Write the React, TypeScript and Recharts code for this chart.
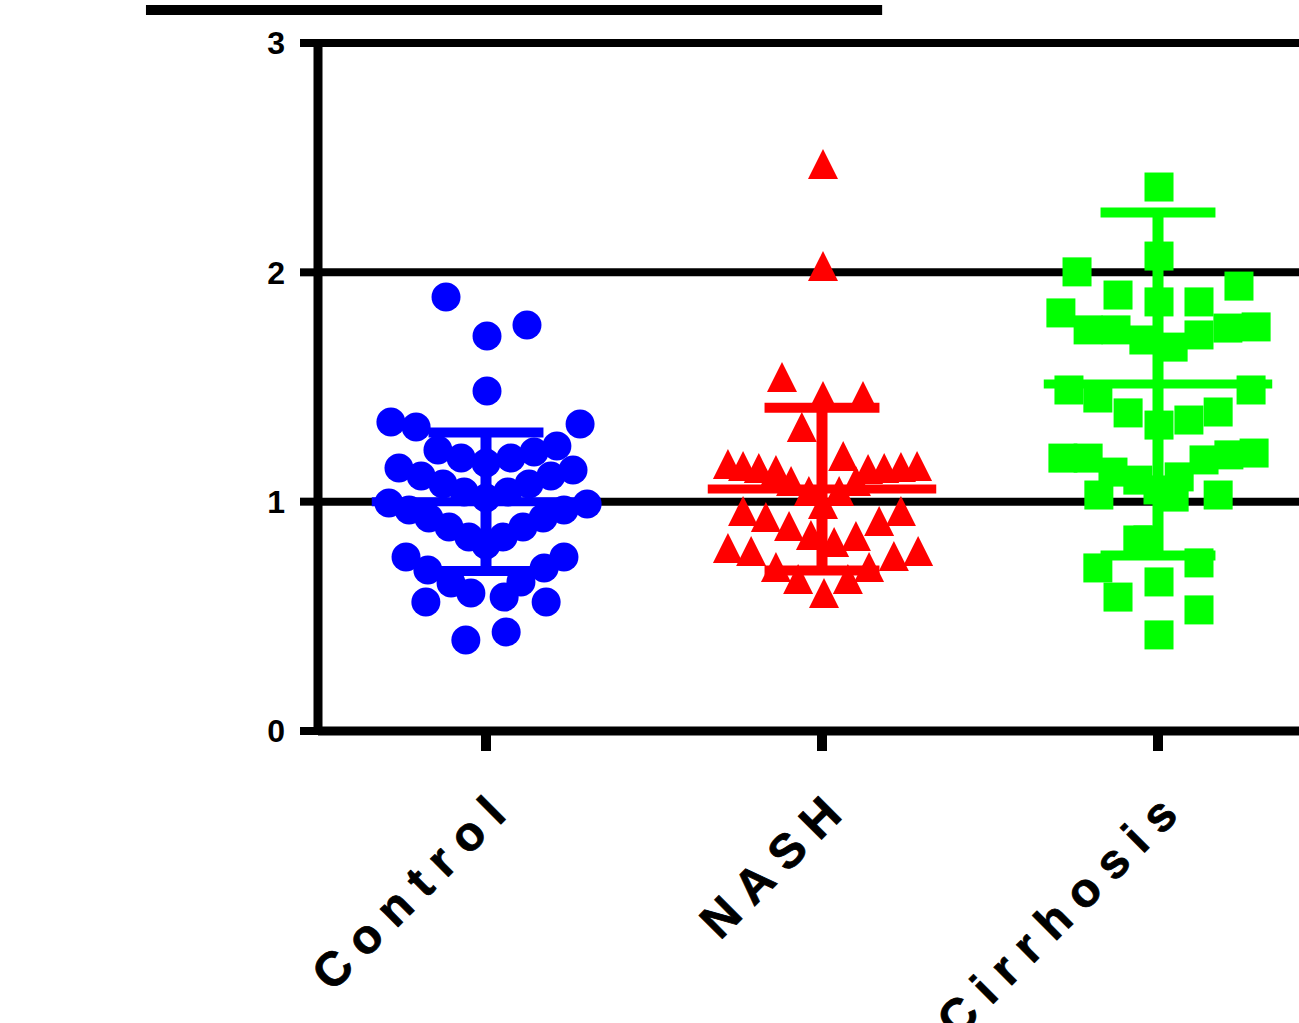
import React from 'react';
import { ScatterChart, Scatter, XAxis, YAxis, CartesianGrid, ReferenceLine } from 'recharts';

const categories = ['Control', 'NASH', 'Cirrhosis'];
const yTicks = [0, 1, 2, 3];
const colors = ['#0000FF', '#FF0000', '#00FF00'];

const controlValues = [
  1.892, 1.722, 1.770, 1.483, 1.347, 1.326, 1.339,
  1.225, 1.190, 1.169, 1.190, 1.217, 1.243,
  1.147, 1.112, 1.077, 1.042, 1.016, 1.042, 1.077, 1.112, 1.138,
  0.994, 0.964, 0.929, 0.890, 0.846, 0.811, 0.846, 0.890, 0.929, 0.964, 0.990,
  0.759, 0.702, 0.645, 0.602, 0.584, 0.650, 0.711, 0.759,
  0.563, 0.563, 0.397, 0.432,
];
const controlOffsets = [
  -0.119, 0.003, 0.122, 0.003, -0.283, -0.208, 0.280,
  -0.143, -0.074, 0.0, 0.074, 0.143, 0.211,
  -0.259, -0.193, -0.128, -0.065, 0.0, 0.065, 0.128, 0.193, 0.259,
  -0.289, -0.229, -0.170, -0.110, -0.051, 0.0, 0.051, 0.110, 0.170, 0.232, 0.301,
  -0.238, -0.173, -0.104, -0.045, 0.054, 0.104, 0.173, 0.232,
  -0.179, 0.179, -0.060, 0.060,
];

const nashValues = [
  2.468, 2.023, 1.539, 1.456, 1.456, 1.321, 1.195,
  1.160, 1.151, 1.142, 1.134, 1.138, 1.142, 1.147, 1.151,
  1.086, 1.042, 1.042, 1.086, 0.985,
  0.955, 0.929, 0.890, 0.850, 0.820, 0.846, 0.911, 0.955,
  0.794, 0.781, 0.711, 0.658, 0.597, 0.658, 0.711, 0.759, 0.781,
];
const nashOffsets = [
  0.003, 0.003, -0.119, 0.003, 0.122, -0.060, 0.063,
  -0.280, -0.235, -0.188, -0.137, 0.137, 0.185, 0.235, 0.283,
  -0.092, -0.039, 0.051, 0.101, 0.003,
  -0.235, -0.167, -0.098, -0.033, 0.036, 0.101, 0.170, 0.235,
  -0.280, -0.211, -0.137, -0.071, 0.006, 0.077, 0.140, 0.214, 0.286,
];

const cirrhosisValues = [
  2.372, 2.071, 2.002, 1.940, 1.901, 1.871, 1.871, 1.823, 1.762,
  1.749, 1.749, 1.705, 1.674, 1.727, 1.757,
  1.487, 1.487, 1.452, 1.387, 1.334, 1.356, 1.391,
  1.190, 1.190, 1.129, 1.094, 1.051, 1.108, 1.182, 1.204, 1.212,
  1.029, 1.029, 1.020,
  0.833, 0.833, 0.711, 0.733, 0.584, 0.650, 0.528, 0.419,
];
const cirrhosisOffsets = [
  0.003, 0.003, -0.241, 0.241, -0.119, 0.003, 0.122, -0.289, 0.292,
  -0.208, -0.125, -0.042, 0.045, 0.122, 0.208,
  -0.265, 0.277, -0.179, -0.089, 0.003, 0.092, 0.179,
  -0.283, -0.208, -0.134, -0.060, 0.0, 0.063, 0.137, 0.211, 0.286,
  -0.176, 0.179, 0.048,
  -0.060, -0.030, -0.179, 0.122, -0.119, 0.003, 0.122, 0.003,
];

const groupMeans = [1.0, 1.055, 1.513];
const groupSDs = [0.302, 0.355, 0.748];

const toPoints = (vals: number[], offs: number[], idx: number) =>
  vals.map((v, i) => ({ x: idx + 1 + offs[i], y: v }));

const controlData = toPoints(controlValues, controlOffsets, 0);
const nashData = toPoints(nashValues, nashOffsets, 1);
const cirrhosisData = toPoints(cirrhosisValues, cirrhosisOffsets, 2);

const FONT = 'Arial, "Liberation Sans", sans-serif';

const circleShape = (p: any) => <circle cx={p.cx} cy={p.cy} r={14.5} fill={colors[0]} />;
const triangleShape = (p: any) => (
  <polygon
    points={`${p.cx},${p.cy - 16} ${p.cx - 15},${p.cy + 14} ${p.cx + 15},${p.cy + 14}`}
    fill={colors[1]}
  />
);
const squareShape = (p: any) => (
  <rect x={p.cx - 14.5} y={p.cy - 14.5} width={29} height={29} fill={colors[2]} />
);

const XTick = (props: any) => {
  const { x, y, payload } = props;
  const ax = x + 31;
  const ay = y + 55;
  return (
    <text
      x={ax}
      y={ay}
      transform={`rotate(-45, ${ax}, ${ay})`}
      textAnchor="end"
      fontFamily={FONT}
      fontWeight="bold"
      fontSize={48}
      letterSpacing={13}
      fill="#000"
      stroke="#000"
      strokeWidth={0.8}
    >
      {categories[payload.value - 1]}
    </text>
  );
};

const CAP = 0.171;
const MEANW = 0.34;

export default function App() {
  const bars: any[] = [];
  groupMeans.forEach((m, i) => {
    const c = i + 1;
    const s = groupSDs[i];
    const col = colors[i];
    bars.push(
      <ReferenceLine key={`v${i}`} segment={[{ x: c, y: m - s }, { x: c, y: m + s }]} stroke={col} strokeWidth={11} ifOverflow="visible" />,
      <ReferenceLine key={`u${i}`} segment={[{ x: c - CAP, y: m + s }, { x: c + CAP, y: m + s }]} stroke={col} strokeWidth={10} ifOverflow="visible" />,
      <ReferenceLine key={`l${i}`} segment={[{ x: c - CAP, y: m - s }, { x: c + CAP, y: m - s }]} stroke={col} strokeWidth={10} ifOverflow="visible" />,
      <ReferenceLine key={`m${i}`} segment={[{ x: c - MEANW, y: m }, { x: c + MEANW, y: m }]} stroke={col} strokeWidth={9} ifOverflow="visible" />
    );
  });

  return (
    <div style={{ position: 'absolute', left: 0, top: 0, width: 1299, height: 1023, overflow: 'hidden', background: '#fff' }}>
      <ScatterChart width={1400} height={1023} margin={{ top: 43, right: 74, bottom: 0, left: 0 }}>
        <CartesianGrid horizontal vertical={false} stroke="#000" strokeWidth={8} strokeOpacity={1} />
        <XAxis
          type="number"
          dataKey="x"
          domain={[0.5, 3.5]}
          ticks={[1, 2, 3]}
          allowDataOverflow
          height={292}
          axisLine={{ stroke: '#000', strokeWidth: 9 }}
          tickLine={{ stroke: '#000', strokeWidth: 10 }}
          tickSize={20}
          tick={<XTick />}
          interval={0}
        />
        <YAxis
          type="number"
          dataKey="y"
          domain={[0, 3]}
          ticks={yTicks}
          allowDataOverflow
          width={318}
          axisLine={{ stroke: '#000', strokeWidth: 9 }}
          tickLine={{ stroke: '#000', strokeWidth: 8 }}
          tickSize={18}
          tickMargin={15}
          tick={{ fill: '#000', fontFamily: FONT, fontWeight: 'bold', fontSize: 32 }}
          interval={0}
        />
        <ReferenceLine
          segment={[{ x: -0.012, y: 3.144 }, { x: 2.179, y: 3.144 }]}
          stroke="#000"
          strokeWidth={10}
          ifOverflow="visible"
        />
        <Scatter data={controlData} shape={circleShape} isAnimationActive={false} />
        <Scatter data={nashData} shape={triangleShape} isAnimationActive={false} />
        <Scatter data={cirrhosisData} shape={squareShape} isAnimationActive={false} />
        {bars}
      </ScatterChart>
    </div>
  );
}
